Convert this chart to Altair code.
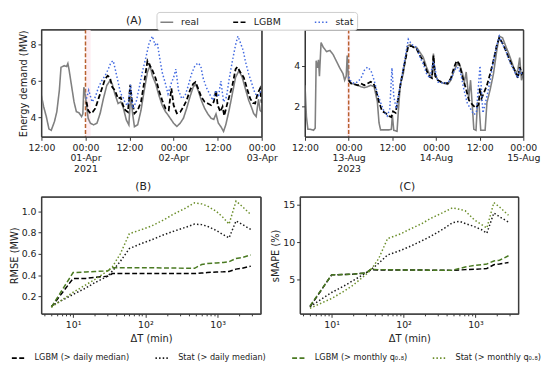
import json
import altair as alt
import pandas as pd

FONT = "DejaVu Sans"

# ---------------- Panel A (left): 2021-03-31 12:00 -> 2021-04-03 00:00, hours since start
A1_REAL_H = [0, 0.6, 1.33, 2.05, 2.67, 3.55, 4.19, 4.88, 5.33, 6.21, 6.85, 7.2, 7.55, 8.19, 8.88, 9.52,
             10.21, 10.93, 11.28, 11.55, 11.73, 12.19, 12.72, 13.33, 14.21, 15.12, 16.0, 16.88, 17.79,
             18.67, 19.28, 20.0, 20.88, 21.6, 22.21, 23.12, 23.81, 24.3, 24.88, 25.33, 26.21, 27.12, 28.0,
             28.88, 29.6, 30.21, 31.12, 32.0, 32.88, 33.79, 34.48, 35.12, 36.0, 36.88, 37.79, 38.67, 39.55,
             40.45, 41.33, 41.95, 42.67, 43.55, 44.45, 45.33, 46.21, 46.93, 47.55, 48.19, 48.88, 49.6,
             50.21, 51.12, 52.0, 52.88, 53.79, 54.67, 55.55, 56.45, 57.33, 57.79, 58.48, 59.12, 59.55, 60]
A1_REAL_V = [5.2, 4.6, 4.05, 3.37, 3.3, 3.78, 4.32, 5.5, 6.76, 6.85, 6.8, 6.97, 6.6, 5.76, 4.86, 4.32,
             4.27, 4.05, 4.2, 5.67, 5.5, 4.86, 3.96, 3.69, 3.6, 3.69, 4.23, 5.04, 5.76,
             6.03, 5.85, 5.3, 4.77, 4.86, 4.6, 3.87, 3.6, 5.2, 4.14, 3.5, 3.6, 4.4, 5.5,
             6.5, 6.85, 6.3, 5.85, 5.22, 4.68, 4.32, 4.14, 3.95, 3.69, 3.51, 3.69, 3.96, 4.5,
             5.13, 5.67, 5.85, 5.5, 4.95, 4.5, 4.2, 3.96, 3.9, 4.2, 3.69, 3.5, 3.24,
             3.6, 4.41, 5.31, 6.22, 6.57, 6.22, 5.58, 4.95, 4.5, 4.23, 4.05, 5.0, 4.4, 4.3]

A1_LGBM_H = [12.27, 12.72, 13.33, 13.95, 14.67, 15.55, 16.45, 17.33, 18.05, 18.67, 19.28, 20.0, 20.88,
             21.6, 22.21, 22.85, 23.55, 24.19, 24.61, 25.33, 26.21, 27.12, 28.0, 28.88, 29.33, 30.21,
             31.12, 32.0, 32.88, 33.79, 34.67, 35.39, 36.0, 36.88, 37.79, 38.67, 39.55, 40.45, 41.33,
             41.95, 42.67, 43.55, 44.45, 45.33, 46.21, 46.93, 47.55, 48.0, 48.72, 49.33, 49.79, 50.4,
             51.12, 52.0, 52.88, 53.33, 54.21, 55.12, 56.0, 56.88, 57.6, 58.21, 58.85, 59.55, 60]
A1_LGBM_V = [4.86, 4.4, 4.23, 4.3, 4.5, 5.04, 5.58, 6.12, 6.3, 6.2, 5.67, 5.5, 5.04,
             5.1, 4.68, 4.4, 4.3, 5.8, 5.0, 4.23, 4.4, 4.86, 5.95, 7.11, 6.93, 6.6,
             6.15, 5.49, 4.95, 4.5, 4.4, 5.6, 4.68, 4.23, 4.3, 4.59, 4.95, 5.49, 5.85,
             5.95, 5.6, 5.13, 4.86, 4.77, 4.68, 4.86, 5.5, 4.68, 4.32, 4.6, 4.1, 4.6,
             5.13, 5.76, 6.66, 6.78, 6.48, 6.2, 5.58, 5.04, 4.8, 4.77, 5.3, 5.6, 4.8]

A1_STAT_H = [12.27, 12.88, 13.79, 14.67, 15.55, 16.45, 17.33, 18.21, 18.93, 19.55, 20.0, 20.88, 21.6,
             22.21, 22.85, 23.55, 24.27, 24.88, 25.79, 26.67, 27.55, 28.45, 29.33, 30.21, 30.93, 31.55,
             32.19, 32.88, 33.79, 34.48, 35.39, 36.0, 36.61, 37.33, 38.21, 39.12, 40.0, 40.88, 41.79,
             42.67, 43.39, 44.0, 44.88, 45.79, 46.67, 47.55, 48.19, 48.88, 49.6, 50.4, 51.12, 52.0,
             52.88, 53.52, 54.21, 54.93, 55.55, 56.45, 57.33, 58.21, 59.12, 60]
A1_STAT_V = [5.04, 5.5, 4.86, 5.13, 5.67, 6.03, 6.3, 6.66, 7.03, 7.12, 6.75, 5.95, 5.3,
             5.13, 4.77, 4.68, 5.8, 4.5, 4.86, 5.67, 6.57, 7.3, 8.1, 8.47, 8.0, 8.1,
             7.3, 6.49, 5.85, 5.3, 5.9, 6.2, 6.66, 5.5, 5.04, 5.2, 5.76, 6.4, 6.84,
             7.0, 6.84, 6.2, 5.67, 5.3, 4.95, 5.5, 5.13, 6.0, 4.86, 5.13, 6.1, 7.1,
             8.0, 8.47, 8.1, 7.7, 7.1, 6.4, 5.85, 5.3, 5.2, 5.5]

# ---------------- Panel A (right): 2023-08-12 12:00 -> 2023-08-15 00:00
A2_REAL_H = [0, 0.4, 0.8, 1.45, 2.35, 2.8, 3.07, 3.43, 3.7, 3.97, 4.42, 5.04, 5.94, 6.85, 7.74, 8.63,
             9.55, 10.44, 10.9, 11.33, 11.6, 11.98, 12.68, 13.6, 14.49, 15.38, 16.3, 17.18, 18.07, 18.99,
             19.88, 20.34, 20.77, 21.69, 23.04, 23.74, 24.0, 24.4, 25.3, 25.7, 26.2, 27.0, 27.5, 28.2,
             28.9, 29.8, 30.7, 31.6, 32.5, 33.4, 34.3, 34.9, 35.3, 35.6, 36.5, 37.4, 38.3, 39.2, 40.1,
             41.0, 41.9, 42.6, 43.3, 43.8, 44.3, 45.0, 45.5, 46.0, 46.4, 47.0, 47.4, 47.8, 48.3, 49.5,
             50.0, 50.9, 51.8, 52.7, 53.4, 54.3, 55.2, 56.1, 57.0, 57.9, 58.5, 59.0, 59.5, 60]
A2_REAL_V = [3.05, 1.5, 0.9, 0.9, 0.85, 0.95, 4.25, 3.9, 4.3, 3.5, 5.14, 4.9, 4.7, 4.75, 4.55, 4.23,
             3.9, 3.62, 3.3, 3.5, 4.5, 3.3, 3.14, 3.1, 3.05, 2.98, 2.93, 2.98, 3.05, 2.98,
             2.26, 1.22, 0.87, 0.87, 0.87, 0.9, 1.6, 0.85, 0.8, 1.9, 3.1, 3.6, 4.23, 4.97,
             5.05, 4.9, 4.9, 4.66, 4.42, 3.94, 3.54, 3.45, 4.6, 3.66, 3.3, 3.2, 3.14, 3.1, 3.3,
             3.78, 4.1, 4.0, 3.62, 3.2, 3.7, 2.4, 3.3, 2.0, 0.9, 0.85, 2.2, 2.2, 0.85, 0.85,
             2.2, 2.85, 3.62, 4.74, 5.45, 5.37, 4.95, 4.55, 4.1, 3.62, 3.8, 4.4, 3.3, 3.6]

A2_LGBM_H = [12.0, 12.68, 13.6, 14.5, 15.4, 16.3, 17.2, 18.07, 18.8, 19.4, 20.3, 21.2, 22.1, 23.0, 23.7,
             24.2, 24.9, 25.7, 26.6, 27.5, 28.4, 29.3, 30.7, 31.6, 32.5, 33.4, 34.3, 34.9, 35.3, 35.8,
             36.5, 37.4, 38.3, 39.2, 40.1, 41.0, 41.7, 42.4, 43.3, 44.2, 45.05, 46.0, 46.9, 47.7, 48.1,
             48.5, 49.1, 50.0, 50.9, 51.8, 52.7, 53.4, 54.3, 55.2, 56.1, 57.0, 57.9, 58.5, 59.0, 59.6, 60]
A2_LGBM_V = [3.3, 3.14, 3.1, 3.05, 3.14, 3.05, 3.14, 3.22, 3.14, 2.9, 2.26, 1.78, 1.7, 1.55, 1.5,
             1.78, 1.7, 2.5, 3.44, 4.23, 4.97, 4.97, 4.82, 4.5, 4.25, 3.78, 3.46, 3.4, 4.5, 3.5,
             3.3, 3.22, 3.17, 3.14, 3.4, 3.94, 4.25, 4.1, 3.46, 2.9, 2.33, 2.1, 1.95, 2.1, 2.9,
             2.4, 2.65, 3.05, 3.62, 4.26, 5.0, 5.37, 5.1, 4.74, 4.35, 4.0, 3.7, 3.4, 3.94, 3.6, 3.7]

A2_STAT_H = [12.0, 12.7, 13.6, 14.5, 15.4, 16.3, 17.2, 18.1, 19.0, 19.9, 20.8, 21.7, 22.6, 23.3, 23.9,
             24.4, 25.1, 25.7, 26.6, 27.5, 28.4, 29.3, 30.7, 31.6, 32.5, 33.4, 34.3, 35.3, 36.5, 38.3,
             40.1, 41.0, 41.9, 42.8, 43.7, 44.6, 45.5, 46.4, 47.1, 48.1, 48.5, 48.9, 50.0, 50.9, 51.8,
             52.7, 53.4, 54.3, 55.2, 56.1, 57.0, 57.9, 58.5, 59.0, 59.9]
A2_STAT_V = [3.46, 3.22, 3.14, 3.22, 3.4, 3.78, 3.94, 3.78, 3.3, 2.66, 2.2, 1.78, 1.55, 1.9, 3.9,
             2.5, 1.9, 2.6, 3.44, 4.4, 5.3, 5.05, 4.9, 4.42, 4.1, 3.62, 3.4, 4.2, 3.22, 3.14,
             3.3, 3.78, 3.94, 3.62, 2.82, 2.18, 1.9, 1.62, 1.7, 4.0, 2.8, 1.7, 2.5, 3.3, 4.26,
             5.0, 5.45, 5.05, 4.74, 4.26, 3.94, 3.62, 3.4, 3.8, 3.5]

SER_A = ["real", "LGBM", "stat"]
COL_A = ["#808080", "#000000", "#4169e1"]
DASH_A = [[1, 0], [5, 2.5], [1.5, 2.2]]
WIDTH_A = [1.6, 1.8, 1.5]
FORECAST_START = [12]
A_TICKS = [0, 12, 24, 36, 48, 60]
A1_LABELS = [["12:00"], ["00:00", "01-Apr", "2021"], ["12:00"], ["00:00", "02-Apr"], ["12:00"], ["00:00", "03-Apr"]]
A2_LABELS = [["12:00"], ["00:00", "13-Aug", "2023"], ["12:00"], ["00:00", "14-Aug"], ["12:00"], ["00:00", "15-Aug"]]

# ---------------- Panels B, C: error vs aggregation window
DT = [5, 10, 15, 20, 30, 35, 45, 60, 90, 120, 180, 240, 360, 480, 600, 720, 960, 1200, 1440, 1800, 2160, 2880]
SER_B = ["LGBM (> daily median)", "Stat (> daily median)", "LGBM (> monthly q₀.₈)", "Stat (> monthly q₀.₈)"]
COL_B = ["#000000", "#1a1a1a", "#4a7a22", "#6b8e2a"]
DASH_B = [[5, 2.5], [1.5, 2.2], [5, 2.5], [1.5, 2.2]]

RMSE_LGBM_DAY = [0.10, 0.37, 0.37, 0.38, 0.39, 0.415, 0.415, 0.415, 0.415, 0.415, 0.415, 0.415, 0.415, 0.415,
                 0.42, 0.425, 0.43, 0.432, 0.435, 0.457, 0.465, 0.485]
RMSE_STAT_DAY = [0.11, 0.22, 0.28, 0.33, 0.39, 0.44, 0.53, 0.65, 0.70, 0.73, 0.78, 0.81, 0.85, 0.88,
                 0.875, 0.86, 0.82, 0.78, 0.75, 0.91, 0.88, 0.83]
RMSE_LGBM_Q8 = [0.10, 0.425, 0.43, 0.435, 0.44, 0.47, 0.47, 0.47, 0.47, 0.47, 0.468, 0.467, 0.466, 0.465,
                0.50, 0.51, 0.515, 0.52, 0.527, 0.557, 0.565, 0.59]
RMSE_STAT_Q8 = [0.10, 0.24, 0.31, 0.36, 0.44, 0.48, 0.60, 0.79, 0.83, 0.86, 0.92, 0.97, 1.03, 1.08,
                1.07, 1.05, 1.00, 0.94, 0.88, 1.096, 1.05, 0.97]

SMAPE_LGBM_DAY = [1.4, 5.65, 5.7, 5.75, 5.9, 6.35, 6.3, 6.3, 6.3, 6.3, 6.3, 6.28, 6.26, 6.25,
                  6.3, 6.35, 6.4, 6.45, 6.5, 7.0, 7.1, 7.3]
SMAPE_STAT_DAY = [1.4, 3.3, 4.2, 4.9, 5.9, 6.3, 7.2, 8.3, 8.9, 9.4, 10.2, 10.8, 11.8, 12.6,
                  12.8, 12.5, 12.1, 11.7, 11.2, 13.9, 13.4, 12.7]
SMAPE_LGBM_Q8 = [1.5, 5.65, 5.7, 5.75, 5.9, 6.4, 6.35, 6.35, 6.3, 6.3, 6.3, 6.28, 6.26, 6.25,
                 6.5, 6.7, 6.9, 7.0, 7.1, 7.5, 7.6, 8.2]
SMAPE_STAT_Q8 = [1.2, 2.5, 3.5, 4.3, 5.7, 6.3, 7.8, 10.5, 11.1, 11.7, 12.5, 13.2, 14.0, 14.6,
                 14.4, 14.2, 13.0, 12.4, 11.9, 15.3, 14.7, 13.6]

LOG_TICKS = [4, 5, 6, 7, 8, 9, 10, 20, 30, 40, 50, 60, 70, 80, 90, 100, 200, 300, 400, 500, 600, 700, 800,
             900, 1000, 2000, 3000]

AXIS_COMMON = dict(grid=False, domain=False, tickColor="#333333", labelColor="#222222",
                   titleColor="#222222", labelFont=FONT, titleFont=FONT, labelFontSize=9.5,
                   titleFontSize=10, titleFontWeight="normal", labelPadding=2)

# top legend hangs from the right time-series panel, bottom legend from panel B
LEG_A = alt.Legend(orient="none", legendX=-151, legendY=-18, direction="horizontal", columns=3,
                   gridAlign="none", title=None, symbolType="stroke", symbolSize=169,
                   symbolStrokeWidth=1.6, labelFont=FONT, labelFontSize=9.5, labelColor="#222222",
                   columnPadding=30, strokeColor="#cccccc", fillColor="white", padding=3,
                   cornerRadius=3, labelOffset=7)
LEG_B = alt.Legend(orient="none", legendX=-31, legendY=156, direction="horizontal", columns=4,
                   gridAlign="none", title=None, symbolType="stroke", symbolSize=200,
                   symbolStrokeWidth=1.6, labelFont=FONT, labelFontSize=8.3, labelColor="#222222",
                   columnPadding=22, labelOffset=8)

FRAME_ROW = pd.DataFrame({"frame": [0]})


def frame_layer():
    return alt.Chart(FRAME_ROW).mark_rect(filled=False, stroke="#333333", strokeWidth=1).encode(
        x=alt.value(0), x2=alt.value("width"), y=alt.value(0), y2=alt.value("height"))


def ts_panel(series_data, ydom, yvals, labels, width, ytitle, title, dx, band, legend):
    xscale = alt.Scale(domain=[0, 60], nice=False, zero=False)
    xaxis = alt.Axis(values=A_TICKS, labelExpr=json.dumps(labels) + "[round(datum.value/12)]",
                     title=None, labelFlush=False, labelOverlap=False, tickSize=3.5,
                     labelLineHeight=11, **AXIS_COMMON)
    yaxis = alt.Axis(values=yvals, title=ytitle, tickSize=3.5, titlePadding=2, **AXIS_COMMON)
    yscale = alt.Scale(domain=ydom, nice=False, zero=False)
    color = alt.Color("series:N", scale=alt.Scale(domain=SER_A, range=COL_A), legend=legend)
    dash = alt.StrokeDash("series:N", scale=alt.Scale(domain=SER_A, range=DASH_A), legend=legend)

    band_layer = alt.Chart(pd.DataFrame({"h": [band[0]], "h2": [band[1]]})).mark_rect(
        color="#fdeef3").encode(x=alt.X("h:Q", scale=xscale, axis=xaxis), x2="h2:Q")
    rule = alt.Chart(pd.DataFrame({"h": FORECAST_START})).mark_rule(
        color="#b8602e", strokeDash=[4, 2], strokeWidth=1.5).encode(x=alt.X("h:Q", scale=xscale, axis=xaxis))
    layers = [band_layer, rule]
    for name, (hs, vs), w in zip(SER_A, series_data, WIDTH_A):
        df = pd.DataFrame({"h": hs, "v": vs, "series": name})
        layers.append(alt.Chart(df).mark_line(strokeWidth=w, clip=True).encode(
            x=alt.X("h:Q", scale=xscale, axis=xaxis),
            y=alt.Y("v:Q", scale=yscale, axis=yaxis),
            color=color, strokeDash=dash))
    layers.append(frame_layer())
    return alt.layer(*layers).properties(
        width=width, height=109,
        title=alt.TitleParams(title, fontSize=11, font=FONT, fontWeight="normal", offset=3, dx=dx,
                              frame="group", color="#222222"))


def err_panel(values, ydom, yvals, yfmt, ytitle, title, dx, width, legend):
    rows = []
    for name, vs in zip(SER_B, values):
        for d, v in zip(DT, vs):
            rows.append({"dt": d, "v": v, "series": name})
    df = pd.DataFrame(rows)
    major = "datum.value == 10 || datum.value == 100 || datum.value == 1000"
    xaxis = alt.Axis(values=LOG_TICKS, title="ΔT (min)", titlePadding=5,
                     labelExpr="datum.value == 10 ? '10¹' : datum.value == 100 ? '10²' : datum.value == 1000 ? '10³' : ''",
                     labelFlush=False, labelOverlap=False,
                     tickSize={"condition": {"test": major, "value": 3.5}, "value": 2},
                     **AXIS_COMMON)
    yaxis = alt.Axis(values=yvals, format=yfmt, title=ytitle, tickSize=3.5, titlePadding=2, **AXIS_COMMON)
    lines = alt.Chart(df).mark_line(strokeWidth=1.5, clip=True).encode(
        x=alt.X("dt:Q", scale=alt.Scale(type="log", domain=[3.64, 3955], nice=False), axis=xaxis),
        y=alt.Y("v:Q", scale=alt.Scale(domain=ydom, nice=False, zero=False), axis=yaxis),
        color=alt.Color("series:N", scale=alt.Scale(domain=SER_B, range=COL_B), legend=legend),
        strokeDash=alt.StrokeDash("series:N", scale=alt.Scale(domain=SER_B, range=DASH_B), legend=legend),
        detail="series:N",
    )
    return alt.layer(lines, frame_layer()).properties(
        width=width, height=119,
        title=alt.TitleParams(title, fontSize=11, font=FONT, fontWeight="normal", offset=4,
                              dx=dx, frame="group", color="#222222"))


a1 = ts_panel([(A1_REAL_H, A1_REAL_V), (A1_LGBM_H, A1_LGBM_V), (A1_STAT_H, A1_STAT_V)],
              [2.94, 8.83], [4, 6, 8], A1_LABELS, 224, "Energy demand (MW)", "(A)", -18, [12, 13.4], None)
a2 = ts_panel([(A2_REAL_H, A2_REAL_V), (A2_LGBM_H, A2_LGBM_V), (A2_STAT_H, A2_STAT_V)],
              [0.53, 5.77], [2, 4], A2_LABELS, 222, None, "", 0, [11.5, 12.4], LEG_A)
b = err_panel([RMSE_LGBM_DAY, RMSE_STAT_DAY, RMSE_LGBM_Q8, RMSE_STAT_Q8], [0.037, 1.136],
              [0.2, 0.4, 0.6, 0.8, 1.0], ".1f", "RMSE (MW)", "(B)", -8, 223, LEG_B)
c = err_panel([SMAPE_LGBM_DAY, SMAPE_STAT_DAY, SMAPE_LGBM_Q8, SMAPE_STAT_Q8], [0.45, 16.06],
              [5, 10, 15], "d", "sMAPE (%)", "(C)", -2, 222, None)

top = alt.hconcat(a1, a2, spacing=44, bounds="flush").resolve_scale(
    color="independent", strokeDash="independent")
bottom = alt.hconcat(b, c, spacing=40, bounds="flush").resolve_scale(
    color="independent", strokeDash="independent")
chart = alt.vconcat(top, bottom, spacing=7).resolve_scale(
    color="independent", strokeDash="independent").properties(padding=0).configure(
    font=FONT).configure_view(stroke="#333333", strokeWidth=1)

chart.save("out.html", embed_options={"renderer": "svg", "actions": False})
